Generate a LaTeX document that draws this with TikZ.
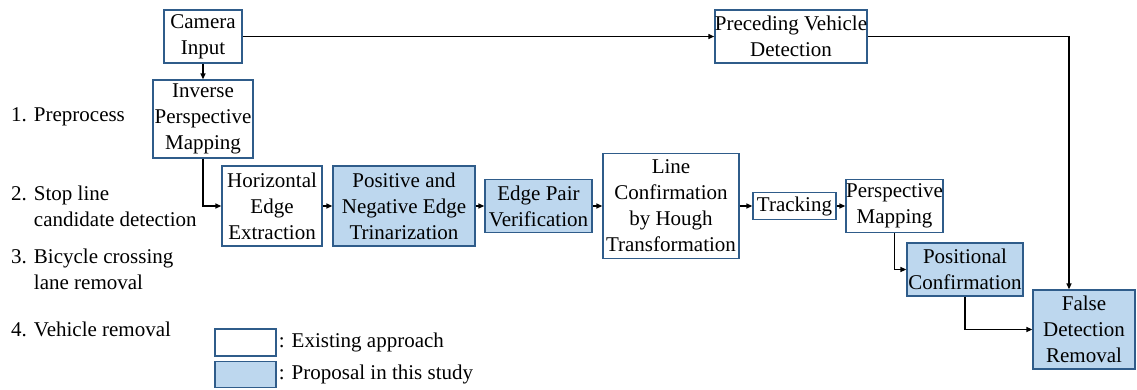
\documentclass[tikz,border=0pt]{standalone}
\usepackage{fontspec}
\setmainfont{LiberationSerif}[Extension=.ttf,UprightFont=*-Regular]
\usetikzlibrary{arrows.meta}
\definecolor{boxline}{HTML}{2F5C8A}
\definecolor{propfill}{HTML}{BDD7EE}
\begin{document}
\begin{tikzpicture}[x=1pt,y=-1pt,
        >={Triangle[length=6pt,width=5pt]},
        every node/.style={font=\fontsize{21}{26}\selectfont},
        existing/.style={draw=boxline,line width=1.3pt,fill=white,inner sep=0pt,align=center},
        proposal/.style={existing,fill=propfill},
        flow/.style={->,line width=1.4pt}]
        \useasboundingbox (0,0) rectangle (1137,389);

        % Input and vehicle detection
        \node[existing,minimum width=78,minimum height=53] (cam) at (203,36.5) {Camera\\Input};
        \node[existing,minimum width=148,minimum height=53] (pvd) at (791,36.5) {Preceding Vehicle\\Detection};
        \node[existing,minimum width=100,minimum height=78] (ipm) at (203,119) {Inverse\\Perspective\\Mapping};

        % Main chain
        \node[existing,minimum width=100,minimum height=80] (hee) at (272,206) {Horizontal\\Edge\\Extraction};
        \node[proposal,minimum width=142,minimum height=80] (pnet) at (404,206) {Positive and\\Negative Edge\\Trinarization};
        \node[proposal,minimum width=107,minimum height=53] (epv) at (538.5,206) {Edge Pair\\Verification};
        \node[existing,minimum width=136,minimum height=105] (lcht) at (671,206) {Line\\Confirmation\\by Hough\\Transformation};
        \node[existing,minimum width=83,minimum height=27] (trk) at (794.5,206) {Tracking};
        \node[existing,minimum width=97,minimum height=53] (pm) at (894.5,206) {Perspective\\Mapping};
        \node[proposal,minimum width=116,minimum height=53] (pc) at (965,269.5) {Positional\\Confirmation};
        \node[proposal,minimum width=102,minimum height=79] (fdr) at (1084,329.5) {False\\Detection\\Removal};

        % Arrows
        \draw[flow] (cam) -- (ipm);
        \draw[flow] (cam.east) -- (pvd.west);
        \draw[flow] (pvd.east) -| ([xshift=-15]fdr.north);
        \draw[flow] (ipm.south) |- (hee.west);
        \foreach \a/\b in {hee/pnet,pnet/epv,epv/lcht,lcht/trk,trk/pm} {
                \draw[flow] (\a) -- (\b);
            }
        \draw[flow] (pm.south) |- (pc.west);
        \draw[flow] (pc.south) |- (fdr.west);

        % Steps
        \node[anchor=west,align=left,inner sep=0pt] (s1) at (11,117) {1. Preprocess};
        \node[anchor=west,align=left,inner sep=0pt] (s2) at (11,206.5) {2. Stop line\\\hphantom{2. }candidate detection};
        \node[anchor=west,align=left,inner sep=0pt] (s3) at (11,269.5) {3. Bicycle crossing\\\hphantom{3. }lane removal};
        \node[anchor=west,align=left,inner sep=0pt] (s4) at (11,329) {4. Vehicle removal};

        % Legend
        \node[existing,minimum width=61,minimum height=27] (leg1) at (245.5,342.5) {};
        \node[proposal,minimum width=61,minimum height=26] (leg2) at (245.5,374.5) {};
        \node[anchor=west,inner sep=0pt] (leg1txt) at ([xshift=2]leg1.east) {: Existing approach};
        \node[anchor=west,inner sep=0pt] (leg2txt) at ([xshift=2]leg2.east) {: Proposal in this study};
    \end{tikzpicture}
\end{document}
